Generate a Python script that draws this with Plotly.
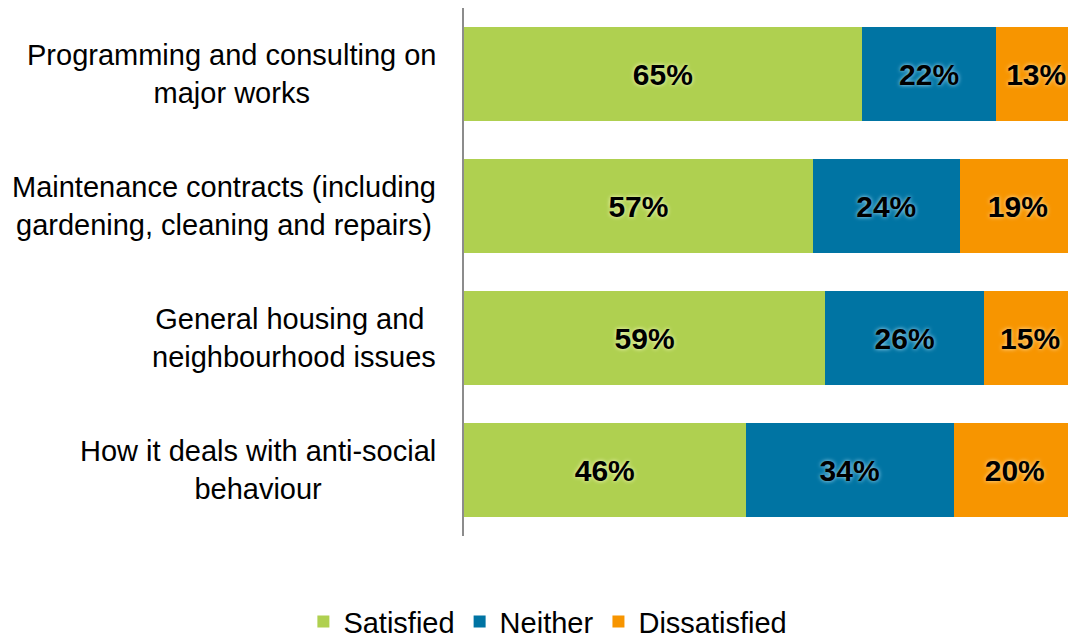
import plotly.graph_objects as go

# Survey results: share of respondents by satisfaction level
categories = [
    "Programming and consulting on<br>major works",
    "Maintenance contracts (including<br>gardening, cleaning and repairs)",
    "General housing and&nbsp;<br>neighbourhood issues",
    "How it deals with anti-social<br>behaviour",
]
satisfied = [65, 57, 59, 46]
neither = [22, 24, 26, 34]
dissatisfied = [13, 19, 15, 20]

series = [
    ("Satisfied", satisfied, "#AFD050", "rgba(255,255,210,0.95)"),
    ("Neither", neither, "#0074A3", "rgba(190,235,255,0.95)"),
    ("Dissatisfied", dissatisfied, "#F79500", "rgba(255,235,190,0.95)"),
]

FONT = "Liberation Sans, Arial, sans-serif"

fig = go.Figure()
for name, vals, color, glow in series:
    fig.add_trace(go.Bar(
        name=name,
        y=categories,
        x=vals,
        orientation="h",
        marker=dict(color=color, line=dict(width=0)),
        text=[f"{v}%" for v in vals],
        textposition="inside",
        insidetextanchor="middle",
        constraintext="none",
        textangle=0,
        textfont=dict(family=FONT, size=30, color="black", weight="bold",
                      shadow=f"0px 0px 4px {glow}"),
        hoverinfo="skip",
    ))

# Category labels, centred line by line to the left of the axis
for cat in categories:
    fig.add_annotation(
        x=0, xref="paper", y=cat, yref="y",
        xanchor="right", yanchor="middle",
        xshift=-26, align="center",
        text=cat, showarrow=False,
        font=dict(family=FONT, size=29, color="black"),
    )

fig.update_layout(
    barmode="stack",
    bargap=0.29,
    width=1068, height=641,
    margin=dict(l=464, r=0, t=8, b=105),
    paper_bgcolor="white",
    plot_bgcolor="white",
    xaxis=dict(range=[0, 98.7], showticklabels=False, showgrid=False,
               zeroline=False, showline=False, fixedrange=True),
    yaxis=dict(categoryorder="array", categoryarray=categories,
               autorange="reversed", showticklabels=False, showgrid=False,
               zeroline=False, showline=True, linecolor="#8C8C8C",
               linewidth=2, ticks=""),
    legend=dict(orientation="h", xref="container", x=0.513, xanchor="center",
                yref="container", y=0.03, yanchor="middle",
                font=dict(family=FONT, size=29, color="black"),
                itemsizing="constant", traceorder="normal"),
    showlegend=True,
)

fig.write_html("out.html")
